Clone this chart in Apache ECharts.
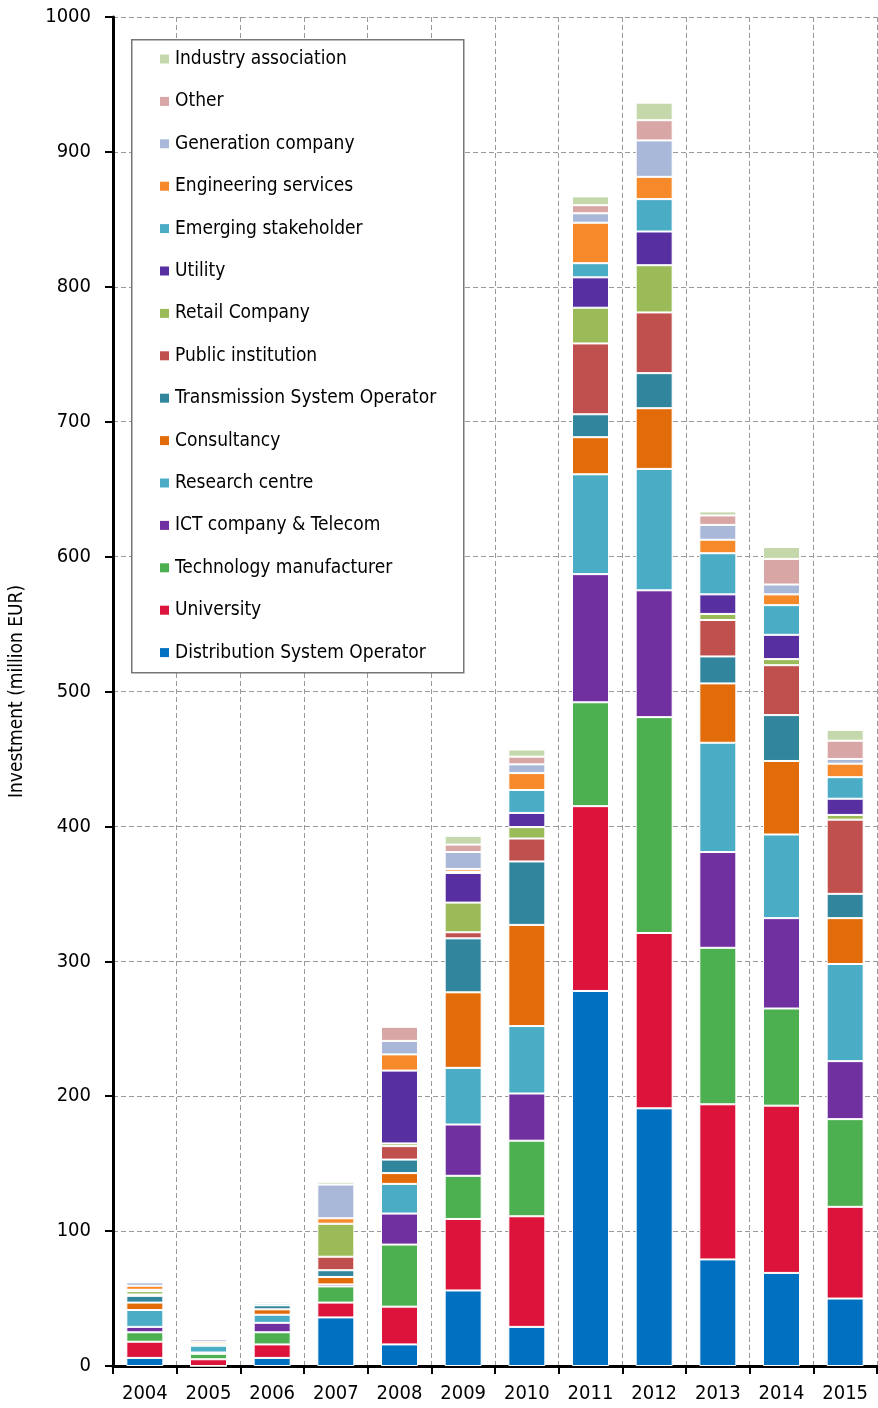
<!DOCTYPE html>
<html>
<head>
<meta charset="utf-8">
<script src="https://cdn.jsdelivr.net/npm/echarts@6/dist/echarts.min.js"></script>
<style>html,body{margin:0;padding:0;background:#fff;}#c{width:878px;height:1408px;}</style>
</head>
<body>
<div id="c"></div>
<script>
const years = ['2004','2005','2006','2007','2008','2009','2010','2011','2012','2013','2014','2015'];
const yTicks = [0,100,200,300,400,500,600,700,800,900,1000];

const dso         = [6, 0, 6, 36, 16, 56, 29, 278, 191, 79, 69, 50];
const university  = [12, 5, 10, 11, 28, 53, 82, 137, 130, 115, 124, 68];
const techManuf   = [7, 4, 9, 12, 46, 32, 56, 77, 160, 116, 72, 65];
const ict         = [4, 1, 7, 1.5, 23, 38, 35, 95, 94, 71, 67, 43];
const research    = [12.5, 5, 6, 0, 22, 42, 50, 74, 90, 81, 62, 72];
const consultancy = [5.5, 1.5, 4, 5.5, 8, 56, 75, 27.5, 45, 44, 54.5, 34];
const tso         = [5, 0, 3, 5, 10, 40, 47, 17, 26, 20, 34, 18];
const publicInst  = [1, 0, 0, 10, 10, 4.5, 17, 52.5, 45, 27, 37, 55];
const retail      = [2.5, 0, 0, 24.5, 2, 22, 8.5, 26.5, 35, 4.5, 4.5, 3.5];
const utility     = [0, 0, 0, 0, 54, 22, 10.5, 22.5, 25, 14.5, 18, 12];
const emerging    = [1, 0, 1.5, 0, 0, 1, 17, 10.5, 24, 30.5, 22, 16];
const engineering = [3, 1.5, 0, 4, 12, 2, 12.5, 30, 16.5, 10, 8, 10];
const generation  = [2.5, 2, 1.5, 25, 10, 12.5, 6.5, 7, 27, 11, 7.3, 3.5];
const other       = [0.5, 0.5, 0, 0, 10.5, 5.5, 5.7, 6, 15, 7, 19, 13.5];
const industry    = [0.5, 0, 0, 2, 0, 6.5, 5.3, 6.5, 13, 3, 8.8, 8];

const seriesDefs = [
  ['Distribution System Operator', dso, '#0070C0'],
  ['University', university, '#DC143C'],
  ['Technology manufacturer', techManuf, '#4CAF50'],
  ['ICT company & Telecom', ict, '#7030A0'],
  ['Research centre', research, '#4BACC6'],
  ['Consultancy', consultancy, '#E36C0A'],
  ['Transmission System Operator', tso, '#31859C'],
  ['Public institution', publicInst, '#C0504D'],
  ['Retail Company', retail, '#9BBB59'],
  ['Utility', utility, '#572FA0'],
  ['Emerging stakeholder', emerging, '#4BACC6'],
  ['Engineering services', engineering, '#F68A2A'],
  ['Generation company', generation, '#A9B8D8'],
  ['Other', other, '#D9A6A6'],
  ['Industry association', industry, '#C5D8AB']
];

const FONT = "'DejaVu Sans Condensed', 'DejaVu Sans', sans-serif";
const chart = echarts.init(document.getElementById('c'), null, {renderer: 'canvas'});

const series = seriesDefs.map(([name, data, color]) => ({
  name, type: 'bar', stack: 'total', data, barWidth: 37,
  itemStyle: {color, borderColor: '#fff', borderWidth: 1},
  emphasis: {disabled: true}
}));

chart.setOption({
  animation: false,
  backgroundColor: '#fff',
  textStyle: {fontFamily: FONT},
  grid: {left: 108, right: 1, top: 17, bottom: 42, containLabel: false},
  graphic: [{
    type: 'rect', left: 131, top: 39, z: 5,
    shape: {width: 332, height: 633},
    style: {fill: '#fff', stroke: '#777', lineWidth: 1.5}
  }],
  legend: {
    orient: 'vertical', left: 131, top: 40, z: 10,
    padding: [8, 10, 10, 29],
    data: seriesDefs.map(d => d[0]).reverse(),
    icon: 'rect', itemWidth: 9, itemHeight: 9, itemGap: 20.4,
    itemStyle: {borderWidth: 0},
    textStyle: {fontFamily: FONT, fontSize: 19, color: '#000', lineHeight: 22, padding: [0,0,0,1]},
    selectedMode: false
  },
  xAxis: {
    type: 'category', data: years,
    axisLine: {lineStyle: {color: '#000', width: 3}},
    axisTick: {show: true, length: 8, lineStyle: {color: '#000', width: 2}},
    axisLabel: {color: '#000', fontSize: 20, margin: 18, fontFamily: FONT},
    splitLine: {show: true, lineStyle: {color: '#999', type: [5, 3], width: 1}}
  },
  yAxis: {
    type: 'value', min: yTicks[0], max: yTicks[yTicks.length-1], interval: 100,
    name: 'Investment (million EUR)', nameLocation: 'middle', nameRotate: 90, nameGap: 86,
    nameTextStyle: {color: '#000', fontSize: 19, fontFamily: FONT},
    axisLine: {show: true, lineStyle: {color: '#000', width: 3}},
    axisTick: {show: true, length: 8, lineStyle: {color: '#000', width: 2}},
    axisLabel: {color: '#000', fontSize: 20, margin: 22, fontFamily: FONT,
                formatter: v => String(v)},
    splitLine: {show: true, lineStyle: {color: '#999', type: [5, 3], width: 1}}
  },
  series
});
</script>
</body>
</html>
